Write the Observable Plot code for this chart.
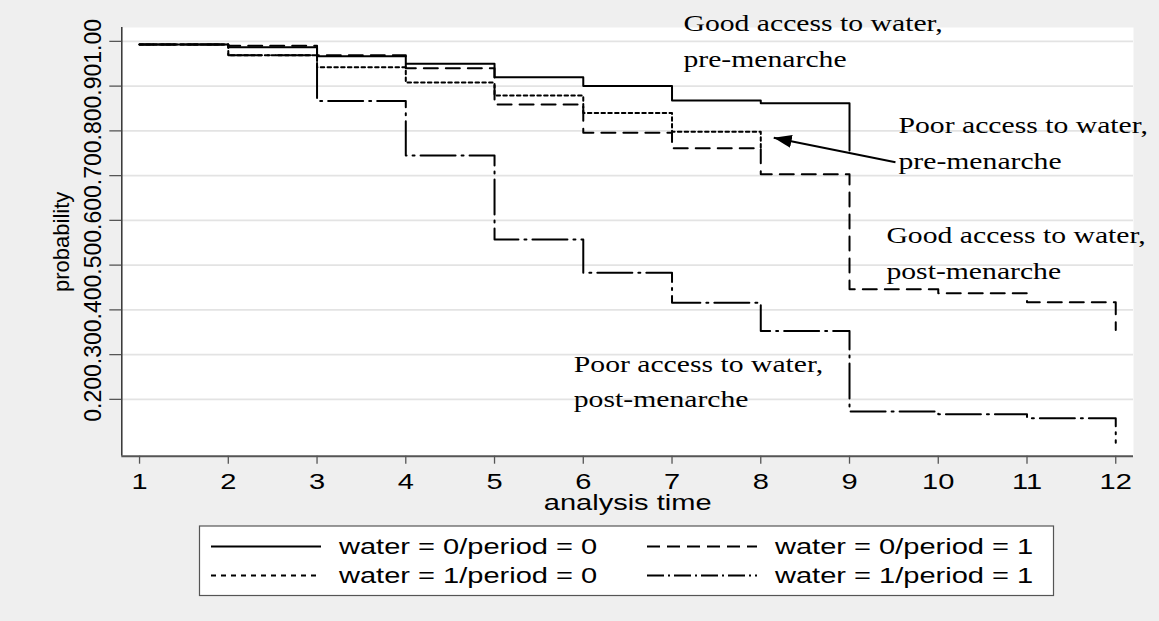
<!DOCTYPE html>
<html><head><meta charset="utf-8">
<script src="https://cdn.jsdelivr.net/npm/d3@7"></script>
<script src="https://cdn.jsdelivr.net/npm/@observablehq/plot@0.6"></script>
<style>
html,body{margin:0;padding:0;background:#efefef;overflow:hidden;}
#chart{width:1159px;height:621px;}
#chart svg{display:block;}
</style></head><body><div id="chart"></div>
<script>
// ---- data ----
const times = [1, 2, 3, 4, 5, 6, 7, 8, 9, 10, 11, 12];
const survWater0Period0 = [0.993, 0.987, 0.967, 0.950, 0.920, 0.900, 0.868, 0.862, 0.756];
const survWater0Period1 = [0.993, 0.990, 0.969, 0.940, 0.859, 0.796, 0.761, 0.703, 0.446, 0.437, 0.417, 0.355];
const survWater1Period0 = [0.993, 0.969, 0.942, 0.908, 0.879, 0.840, 0.798, 0.760];
const survWater1Period1 = [0.993, 0.969, 0.867, 0.745, 0.557, 0.483, 0.416, 0.353, 0.173, 0.167, 0.158, 0.103];
const seriesNames = ["water = 0/period = 0", "water = 0/period = 1", "water = 1/period = 0", "water = 1/period = 1"];
const xTicks = [1, 2, 3, 4, 5, 6, 7, 8, 9, 10, 11, 12];
const yTicks = [0.2, 0.3, 0.4, 0.5, 0.6, 0.7, 0.8, 0.9, 1.0];
const annotationTexts = ["Good access to water,\npre-menarche", "Poor access to water,\npre-menarche", "Good access to water,\npost-menarche", "Poor access to water,\npost-menarche"];
const annotationTime = [7.129, 9.552, 9.416, 5.893];
const annotationProb = [0.9427, 0.7159, 0.4694, 0.1825];
const arrowTime = [9.518, 8.146];
const arrowProb = [0.730, 0.7845];

// ---- styles ----
const plotDash = ["none", "14,8", "3.5,3.3", "35,6,2,6"];
const legendDash = ["none", "13,7", "5,5", "17,4,2,4"];
const X_DOMAIN = [0.8, 12.2];
const Y_DOMAIN = [0.073, 1.031];
const SX = 1.32;

const allSeries = [survWater0Period0, survWater0Period1, survWater1Period0, survWater1Period1];
const rows = allSeries.flatMap((vals, k) => vals.map((v, i) => ({series: seriesNames[k], t: times[i], v})));
const annotations = annotationTexts.map((text, i) => ({text, t: annotationTime[i], v: annotationProb[i]}));
const arrowData = [{t1: arrowTime[0], v1: arrowProb[0], t2: arrowTime[1], v2: arrowProb[1]}];

function filledArrow(color, context) {
  const doc = (context && context.document) || document;
  const ns = "http://www.w3.org/2000/svg";
  const m = doc.createElementNS(ns, "marker");
  m.setAttribute("viewBox", "-18 -6.5 18 13");
  m.setAttribute("markerWidth", 18);
  m.setAttribute("markerHeight", 13);
  m.setAttribute("markerUnits", "userSpaceOnUse");
  m.setAttribute("orient", "auto");
  m.setAttribute("refX", 0);
  m.setAttribute("refY", 0);
  const p = doc.createElementNS(ns, "path");
  p.setAttribute("d", "M-18,-6.5L0,0L-18,6.5Z");
  p.setAttribute("fill", color);
  p.setAttribute("stroke", "none");
  m.appendChild(p);
  return m;
}

const lineMarks = seriesNames.map((s, k) =>
  Plot.line(rows.filter(d => d.series === s), {
    x: "t", y: "v", curve: "step-after", stroke: "black", strokeWidth: 2,
    strokeDasharray: plotDash[k] === "none" ? null : plotDash[k]
  })
);

const plot = Plot.plot({
  width: 1159,
  height: 521,
  marginLeft: 121.3,
  marginRight: 26,
  marginTop: 27,
  marginBottom: 65.3,
  style: {background: "#efefef", fontFamily: "'Liberation Sans', Arial, sans-serif", color: "black"},
  x: {domain: X_DOMAIN},
  y: {domain: Y_DOMAIN},
  marks: [
    Plot.frame({fill: "white", stroke: null}),
    Plot.gridY(yTicks, {stroke: "#e3e3e3", strokeOpacity: 1, strokeWidth: 1.6}),
    Plot.ruleX([X_DOMAIN[0]], {stroke: "#333", strokeWidth: 1.5}),
    Plot.ruleY([Y_DOMAIN[0]], {stroke: "#555", strokeWidth: 2}),
    Plot.axisY({ticks: yTicks, tickFormat: d3.format(".2f"), tickRotate: -90, tickSize: 12, tickPadding: 9.3,
      fontSize: 23, label: null, stroke: "#555", strokeWidth: 1.3}),
    Plot.axisX({ticks: xTicks, tickFormat: d => String(d), tickSize: 8, tickPadding: 9,
      fontSize: 22, label: null, stroke: "#555", strokeWidth: 1.3}),
    Plot.text(["analysis time"], {frameAnchor: "bottom", dy: 54, lineAnchor: "bottom", fontSize: 22, fill: "black"}),
    Plot.text(["probability"], {frameAnchor: "left", dx: -53.3, rotate: -90, lineAnchor: "bottom", textAnchor: "middle", fontSize: 22, fill: "black"}),
    ...lineMarks,
    Plot.link(arrowData, {x1: "t1", y1: "v1", x2: "t2", y2: "v2", stroke: "black", strokeWidth: 2, markerEnd: filledArrow}),
    Plot.text(annotations, {x: "t", y: "v", text: "text", textAnchor: "start", lineAnchor: "bottom",
      lineHeight: 1.58, fontSize: 22.5, fontFamily: "'Liberation Serif', 'Times New Roman', serif", fill: "black"})
  ]
});

// widen horizontal text, as in the reference
plot.querySelectorAll("text").forEach(el => {
  const tr = el.getAttribute("transform") || "";
  const ptr = (el.parentNode && el.parentNode.getAttribute && el.parentNode.getAttribute("transform")) || "";
  if (tr.includes("rotate") || ptr.includes("rotate")) return;
  const x = +el.getAttribute("x") || 0;
  el.setAttribute("transform", `${tr} translate(${x},0) scale(${SX},1) translate(${-x},0)`);
});

document.getElementById("chart").appendChild(plot);

// ---- legend below the plot ----
const TOP = 521;
const leg = d3.select("#chart").append("svg").attr("width", 1159).attr("height", 100)
  .style("font-family", "'Liberation Sans', Arial, sans-serif");
const g = leg.append("g").attr("transform", `translate(0,${-TOP})`);
g.append("rect").attr("x", 199.5).attr("y", 526).attr("width", 854).attr("height", 69.5)
  .attr("fill", "white").attr("stroke", "#555").attr("stroke-width", 1.2);
const colX = [211, 647];
const rowY = [546.5, 575.5];
const slot = [[0, 0], [1, 0], [0, 1], [1, 1]];
seriesNames.forEach((name, k) => {
  const [c, r] = slot[k];
  const x0 = colX[c], y0 = rowY[r];
  g.append("line").attr("x1", x0).attr("x2", x0 + 110).attr("y1", y0).attr("y2", y0)
    .attr("stroke", "black").attr("stroke-width", 2)
    .attr("stroke-dasharray", legendDash[k] === "none" ? null : legendDash[k]);
  g.append("text").attr("transform", `translate(${x0 + 128},${y0 + 7.6}) scale(${SX},1)`)
    .attr("font-size", 22).attr("fill", "black").text(name);
});
</script>
</body></html>
